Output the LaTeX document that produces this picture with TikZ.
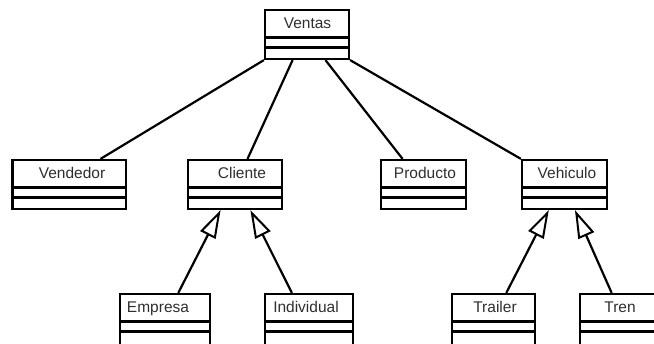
\documentclass[tikz,border=0pt]{standalone}
\usepackage{fontspec}
\setmainfont{Liberation Sans}
\usetikzlibrary{arrows.meta,calc}

\tikzset{
  classbox/.style={draw, line width=2.2pt, rectangle, inner sep=0pt},
  classname/.style={anchor=base, inner sep=0pt, text=black!82,
                    font=\fontsize{15.5}{18}\selectfont},
  rule/.style={line width=2.2pt},
  assoc/.style={line width=2.2pt},
  gen/.style={line width=2.2pt,
              -{Triangle[open, length=28pt, width=17pt, line width=2pt]}}
}

% class box: name, left, top, right, bottom, label x, label
\newcommand\umlclass[7]{%
  \pgfmathsetmacro\clsw{#4-#2}%
  \pgfmathsetmacro\clsh{#5-#3}%
  \node[classbox, minimum width=\clsw pt, minimum height=\clsh pt]
    (#1) at ({(#2+#4)/2},{(#3+#5)/2}) {};
  \node[classname] (#1-name) at ({#6},{#3+19}) {#7};
  \draw[rule] ({#2},{#3+27.5}) -- ({#4},{#3+27.5});
  \draw[rule] ({#2},{#3+37.5}) -- ({#4},{#3+37.5});
}

\begin{document}
\begin{tikzpicture}[x=1pt, y=-1pt]
  \useasboundingbox (0,0) rectangle (654,344);
  \clip (0,0) rectangle (654,344);

  % classes
  \umlclass{ventas}{265}{10}{349}{59}{307.5}{Ventas}
  \umlclass{vendedor}{12.5}{160}{126}{209}{72}{Vendedor}
  \umlclass{cliente}{188}{160}{282}{209}{242}{Cliente}
  \umlclass{producto}{381}{160}{466}{209}{425}{Producto}
  \umlclass{vehiculo}{522}{160}{607}{209}{567}{Vehiculo}
  \umlclass{empresa}{120}{294}{210}{350}{158}{Empresa}
  \umlclass{individual}{265}{294}{353}{350}{306}{Individual}
  \umlclass{trailer}{452}{294}{535}{350}{495}{Trailer}
  \umlclass{tren}{580}{294}{664}{350}{620}{Tren}

  % associations from Ventas
  \draw[assoc] (ventas.south west)
    -- ($(vendedor.north west)!0.77!(vendedor.north east)$);
  \draw[assoc] ($(ventas.south west)!0.333!(ventas.south east)$)
    -- ($(cliente.north west)!0.63!(cliente.north east)$);
  \draw[assoc] ($(ventas.south west)!0.714!(ventas.south east)$)
    -- ($(producto.north west)!0.26!(producto.north east)$);
  \draw[assoc] (ventas.south east) -- (vehiculo.north west);

  % generalizations
  \draw[gen] ($(empresa.north west)!0.644!(empresa.north east)$)
    -- ($(cliente.south west)!0.35!(cliente.south east)$);
  \draw[gen] ($(individual.north west)!0.31!(individual.north east)$)
    -- ($(cliente.south west)!0.66!(cliente.south east)$);
  \draw[gen] ($(trailer.north west)!0.65!(trailer.north east)$)
    -- ($(vehiculo.south west)!0.32!(vehiculo.south east)$);
  \draw[gen] ($(tren.north west)!0.38!(tren.north east)$)
    -- ($(vehiculo.south west)!0.62!(vehiculo.south east)$);
\end{tikzpicture}
\end{document}
